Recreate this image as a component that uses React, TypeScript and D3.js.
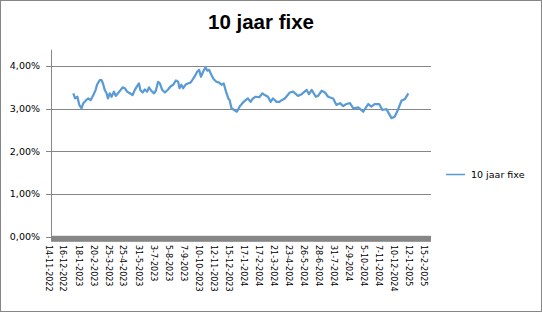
import React from "react";
import * as d3 from "d3";

const seriesName = "10 jaar fixe";
const titleText = "10 jaar fixe";

const tickDates: string[] = [
  "2022-11-14", "2022-12-16", "2023-01-18", "2023-02-20", "2023-03-25", "2023-04-25",
  "2023-05-31", "2023-07-03", "2023-08-05", "2023-09-07", "2023-10-10", "2023-11-12",
  "2023-12-15", "2024-01-17", "2024-02-17", "2024-03-21", "2024-04-23", "2024-05-26",
  "2024-06-28", "2024-07-31", "2024-09-02", "2024-10-05", "2024-11-07", "2024-12-10",
  "2025-01-12", "2025-02-15",
];

const yTicks: number[] = [0, 1, 2, 3, 4];

const dates: string[] = [
  "2023-01-07", "2023-01-11", "2023-01-16", "2023-01-20", "2023-01-25", "2023-01-29",
  "2023-02-04", "2023-02-09", "2023-02-14", "2023-02-20", "2023-02-25", "2023-02-28",
  "2023-03-06", "2023-03-10", "2023-03-13", "2023-03-17", "2023-03-21", "2023-03-24",
  "2023-03-28", "2023-04-01", "2023-04-06", "2023-04-10", "2023-04-15", "2023-04-21",
  "2023-04-25", "2023-04-30", "2023-05-05", "2023-05-11", "2023-05-17", "2023-05-22",
  "2023-05-27", "2023-05-31", "2023-06-03", "2023-06-08", "2023-06-13", "2023-06-18",
  "2023-06-22", "2023-06-27", "2023-07-03", "2023-07-07", "2023-07-12", "2023-07-16",
  "2023-07-21", "2023-07-27", "2023-08-03", "2023-08-08", "2023-08-14", "2023-08-20",
  "2023-08-25", "2023-08-28", "2023-09-01", "2023-09-05", "2023-09-10", "2023-09-15",
  "2023-09-21", "2023-09-25", "2023-09-30", "2023-10-06", "2023-10-10", "2023-10-14",
  "2023-10-19", "2023-10-24", "2023-10-28", "2023-11-01", "2023-11-06", "2023-11-11",
  "2023-11-17", "2023-11-23", "2023-11-28", "2023-12-03", "2023-12-08", "2023-12-13",
  "2023-12-16", "2023-12-20", "2023-12-26", "2024-01-01", "2024-01-07", "2024-01-13",
  "2024-01-20", "2024-01-25", "2024-01-31", "2024-02-05", "2024-02-11", "2024-02-19",
  "2024-02-26", "2024-03-02", "2024-03-09", "2024-03-15", "2024-03-20", "2024-03-28",
  "2024-04-03", "2024-04-08", "2024-04-15", "2024-04-26", "2024-05-03", "2024-05-14",
  "2024-05-22", "2024-06-02", "2024-06-07", "2024-06-13", "2024-06-22", "2024-06-27",
  "2024-07-05", "2024-07-12", "2024-07-19", "2024-07-30", "2024-08-06", "2024-08-14",
  "2024-08-21", "2024-08-28", "2024-09-05", "2024-09-12", "2024-09-23", "2024-10-04",
  "2024-10-15", "2024-10-22", "2024-10-29", "2024-11-08", "2024-11-15", "2024-11-24",
  "2024-12-05", "2024-12-12", "2024-12-19", "2024-12-27", "2025-01-03", "2025-01-11",
];

const values: number[] = [
  3.36, 3.24, 3.28, 3.09, 3.01, 3.13,
  3.20, 3.24, 3.20, 3.32, 3.44, 3.56,
  3.67, 3.67, 3.59, 3.44, 3.36, 3.24,
  3.36, 3.28, 3.40, 3.30, 3.36, 3.44,
  3.50, 3.48, 3.40, 3.36, 3.32, 3.44,
  3.53, 3.59, 3.44, 3.38, 3.45, 3.40,
  3.50, 3.42, 3.36, 3.42, 3.63, 3.59,
  3.44, 3.38, 3.45, 3.52, 3.56, 3.66,
  3.63, 3.48, 3.56, 3.48, 3.56, 3.59,
  3.61, 3.67, 3.75, 3.87, 3.91, 3.75,
  3.87, 3.97, 3.89, 3.91, 3.79, 3.69,
  3.63, 3.61, 3.56, 3.59, 3.40, 3.24,
  3.20, 3.01, 2.97, 2.93, 3.05, 3.13,
  3.20, 3.24, 3.16, 3.24, 3.28, 3.27,
  3.36, 3.32, 3.28, 3.16, 3.24, 3.16,
  3.16, 3.20, 3.24, 3.38, 3.40, 3.30,
  3.34, 3.44, 3.34, 3.44, 3.28, 3.30,
  3.42, 3.38, 3.28, 3.24, 3.09, 3.13,
  3.06, 3.11, 3.13, 3.01, 3.03, 2.93,
  3.11, 3.05, 3.11, 3.11, 2.97, 2.99,
  2.78, 2.81, 2.97, 3.19, 3.22, 3.36,
];

const W = 542;
const H = 312;
const plotLeft = 51;
const plotRight = 431;
const yTop = 49.8;
const yZero = 236.8;
const gray = "#868686";
const blue = "#5B9BD5";
const font = "'DejaVu Sans', Verdana, sans-serif";

const parse = d3.timeParse("%Y-%m-%d");
const fmtTick = (d: Date) => `${d.getDate()}-${d.getMonth() + 1}-${d.getFullYear()}`;
const fmtPct = (v: number) => d3.format(".2f")(v).replace(".", ",") + "%";

export default function App() {
  const x = d3
    .scaleTime()
    .domain([parse(tickDates[0])!, parse(tickDates[tickDates.length - 1])!])
    .range([48.7, 424.3]);
  const y = d3.scaleLinear().domain([0, 4]).range([yZero, yZero - 4 * 42.7]);

  const points = dates.map((d, i) => ({ date: parse(d)!, v: values[i] }));
  const line = d3
    .line<{ date: Date; v: number }>()
    .x((p) => x(p.date))
    .y((p) => y(p.v))
    .curve(d3.curveLinear);

  return (
    <svg
      width={W}
      height={H}
      style={{ position: "absolute", left: 0, top: 0, background: "#fff" }}
    >
      <rect x={0.5} y={0.5} width={W - 1} height={H - 1} fill="#fff" stroke={gray} />
      <text
        x={261}
        y={29}
        textAnchor="middle"
        fontFamily="'Liberation Sans', Arial, sans-serif"
        fontWeight="bold"
        fontSize={20.5}
        fill="#000"
      >
        {titleText}
      </text>

      {yTicks.map((t) => (
        <g key={t}>
          {t > 0 && (
            <line
              x1={plotLeft}
              x2={plotRight}
              y1={Math.round(y(t)) + 0.5}
              y2={Math.round(y(t)) + 0.5}
              stroke={gray}
            />
          )}
          <line
            x1={46}
            x2={plotLeft}
            y1={Math.round(y(t)) + 0.5}
            y2={Math.round(y(t)) + 0.5}
            stroke={gray}
          />
          <text
            x={40}
            y={y(t)}
            dy="0.35em"
            textAnchor="end"
            fontFamily={font}
            fontSize={9.5}
            fill="#000"
          >
            {fmtPct(t)}
          </text>
        </g>
      ))}

      <line x1={plotLeft + 0.5} x2={plotLeft + 0.5} y1={yTop} y2={yZero} stroke={gray} />
      <rect x={plotLeft} y={yZero - 1} width={plotRight - plotLeft} height={6} fill={gray} />

      {tickDates.map((td) => {
        const d = parse(td)!;
        return (
          <text
            key={td}
            transform={`translate(${x(d)},${245}) rotate(90)`}
            dy="0.35em"
            fontFamily={font}
            fontSize={8}
            fill="#000"
          >
            {fmtTick(d)}
          </text>
        );
      })}

      <path d={line(points) || ""} fill="none" stroke={blue} strokeWidth={2.25} strokeLinejoin="round" />

      <line x1={446} x2={465} y1={174.5} y2={174.5} stroke={blue} strokeWidth={1.5} />
      <text x={471} y={174.5} dy="0.35em" fontFamily={font} fontSize={9.5} fill="#000">
        {seriesName}
      </text>
    </svg>
  );
}
